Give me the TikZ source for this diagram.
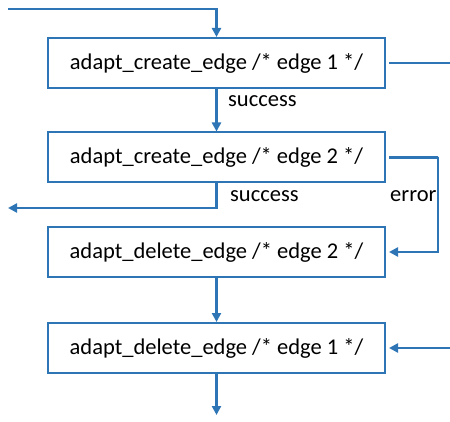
\documentclass[tikz,border=0pt]{standalone}
\usepackage{fontspec}
\setmainfont{Carlito}
\usetikzlibrary{arrows.meta}
\definecolor{flowblue}{RGB}{46,117,182}
\begin{document}
\begin{tikzpicture}[x=1pt,y=-1pt,
  stepbox/.style={draw=flowblue,line width=2pt,fill=white,minimum width=337pt,minimum height=50pt,inner sep=0pt,font=\fontsize{22.5}{26}\selectfont},
  flow/.style={draw=flowblue,line width=2.5pt,-{Triangle[length=9pt,width=9pt]}},
  plain/.style={draw=flowblue,line width=2.5pt},
  lbl/.style={font=\fontsize{22.5}{26}\selectfont,inner sep=0pt}]
\useasboundingbox (0,0) rectangle (450,422);
\node[stepbox] (c1) at (216.5,63) {adapt\_create\_edge /* edge 1 */};
\node[stepbox] (c2) at (216.5,157.5) {adapt\_create\_edge /* edge 2 */};
\node[stepbox] (d2) at (216.5,252) {adapt\_delete\_edge /* edge 2 */};
\node[stepbox] (d1) at (216.5,348) {adapt\_delete\_edge /* edge 1 */};
\coordinate (in1) at (8,9);
\coordinate (out1) at (450,63);
\coordinate (err) at (438,157);
\coordinate (succ) at (8,208);
\coordinate (in2) at (450,348);
\coordinate (out2) at (216.5,415);
% incoming flow from above
\draw[flow] (in1) -| (c1.north);
% exit to the right of the first step
\draw[plain] ([xshift=3pt]c1.east) -- (out1);
% success path between the create steps
\draw[flow] (c1.south) -- (c2.north);
\node[lbl,anchor=west] (s1) at (228,101) {success};
% success of the second create leaves to the left
\draw[flow] (c2.south) |- (succ);
\node[lbl,anchor=west] (s2) at (230,196) {success};
% error path into the delete steps
\draw[flow,shorten >=3pt] ([xshift=3pt]c2.east) -| (err) |- (d2.east);
\node[lbl,anchor=west] (e2) at (390,196) {error};
\draw[flow] (d2.south) -- (d1.north);
\draw[flow,shorten >=3pt] (in2) -- (d1.east);
\draw[flow] (d1.south) -- (out2);
\end{tikzpicture}
\end{document}
